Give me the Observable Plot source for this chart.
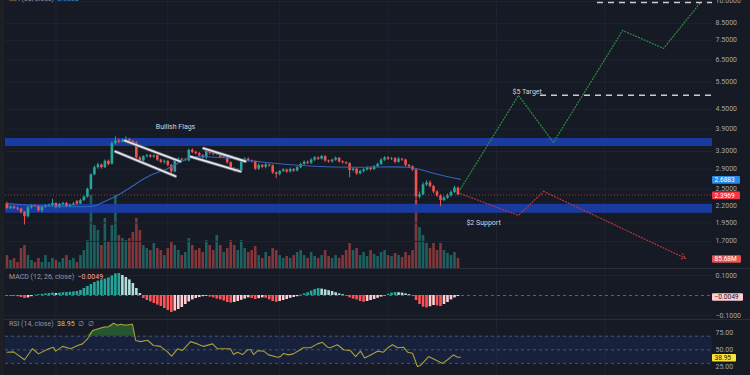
<!DOCTYPE html>
<html><head><meta charset="utf-8">
<script src="https://cdn.jsdelivr.net/npm/d3@7"></script>
<script src="https://cdn.jsdelivr.net/npm/@observablehq/plot@0.6"></script>
<style>
html,body{margin:0;padding:0;background:#161a25;}
#wrap{position:relative;width:750px;height:375px;overflow:hidden;font-family:Roboto,"Noto Sans",sans-serif;background:#161a25;}
.layer{position:absolute;left:0;}
.layer svg{display:block;}
.lbl{position:absolute;left:9px;font-size:7px;color:#9598a1;white-space:pre;line-height:8px;}
.sep{position:absolute;left:0;width:750px;height:1px;background:#2a2e39;}
</style></head><body><div id="wrap"></div>
<script>
// ---------- data ----------
const open = [2.25,2.17,2.19,2.17,2.16,2.11,2.04,2.18,2.21,2.20, 2.13,2.19,2.21,2.22,2.25,2.18,2.23,2.25,2.20,2.22,
  2.28,2.24,2.30,2.36,2.50,2.78,2.93,2.99,2.93,3.07, 3.01,3.50,3.57,3.54,3.58,3.60,3.56,3.52,3.15,3.08,
  3.18,3.20,3.17,3.20,3.10,3.05,3.07,2.98,2.84,3.10, 3.12,3.10,3.08,3.33,3.28,3.25,3.20,3.15,3.30,3.26,
  3.24,3.24,3.16,3.18,3.04,2.90,2.86,2.86,3.09,3.12, 3.08,3.06,2.90,2.98,2.94,2.99,2.97,2.82,2.79,2.85,
  2.88,2.84,2.89,2.86,2.93,3.00,3.05,3.03,3.10,3.15, 3.12,3.18,3.08,3.06,3.10,3.14,3.06,3.04,3.02,2.87,
  2.90,2.80,2.85,2.88,2.92,2.89,2.95,3.00,3.10,3.15, 3.12,3.13,3.05,3.12,3.10,2.98,2.95,2.88,2.36,2.40,
  2.58,2.62,2.55,2.45,2.38,2.30,2.34,2.38,2.44,2.52];
const close = [2.17,2.19,2.17,2.16,2.11,2.04,2.18,2.21,2.20,2.13, 2.19,2.21,2.22,2.25,2.18,2.23,2.25,2.20,2.22,2.24,
  2.24,2.30,2.36,2.50,2.78,2.93,2.99,2.93,3.07,3.00, 3.50,3.57,3.54,3.58,3.60,3.55,3.52,3.15,3.08,3.18,
  3.20,3.17,3.20,3.10,3.05,3.07,2.98,2.84,3.10,3.12, 3.10,3.11,3.33,3.28,3.25,3.20,3.15,3.30,3.26,3.24,
  3.26,3.16,3.18,3.04,2.90,2.86,2.88,3.09,3.12,3.08, 3.06,2.90,2.98,2.94,2.99,2.97,2.82,2.79,2.85,2.88,
  2.84,2.89,2.86,2.93,3.00,3.05,3.03,3.10,3.15,3.12, 3.18,3.08,3.06,3.10,3.14,3.06,3.04,3.02,2.87,2.90,
  2.80,2.85,2.88,2.92,2.89,2.95,3.00,3.10,3.15,3.12, 3.13,3.05,3.12,3.10,2.98,2.95,2.88,2.36,2.40,2.58,
  2.62,2.55,2.45,2.38,2.30,2.34,2.38,2.44,2.52,2.3969];
const high = [2.27,2.21,2.21,2.19,2.17,2.12,2.20,2.23,2.23,2.21, 2.20,2.23,2.24,2.32,2.26,2.25,2.27,2.27,2.24,2.27,
  2.30,2.32,2.38,2.52,2.80,2.97,3.03,3.01,3.10,3.10, 3.55,3.68,3.62,3.62,3.68,3.64,3.58,3.55,3.18,3.20,
  3.23,3.23,3.22,3.21,3.12,3.10,3.09,3.00,3.12,3.15, 3.14,3.14,3.36,3.37,3.31,3.28,3.23,3.33,3.33,3.29,
  3.29,3.26,3.21,3.20,3.06,2.93,2.91,3.12,3.15,3.15, 3.10,3.08,3.01,3.00,3.02,3.01,2.99,2.84,2.87,2.91,
  2.90,2.92,2.91,2.96,3.03,3.08,3.08,3.13,3.18,3.17, 3.21,3.20,3.10,3.12,3.17,3.16,3.08,3.06,3.04,2.93,
  2.92,2.88,2.91,2.95,2.95,2.98,3.03,3.13,3.18,3.18, 3.16,3.16,3.16,3.14,3.12,3.00,2.97,2.90,2.45,2.62,
  2.66,2.66,2.57,2.47,2.40,2.37,2.41,2.47,2.55,2.54];
const low = [2.15,2.15,2.15,2.13,2.08,1.92,2.02,2.16,2.18,2.11, 2.10,2.17,2.19,2.20,2.16,2.17,2.21,2.18,2.19,2.21,
  2.22,2.23,2.28,2.34,2.48,2.76,2.90,2.90,2.91,2.97, 2.99,3.46,3.50,3.52,3.55,3.52,3.48,3.12,3.05,3.05,
  3.15,3.14,3.14,3.07,3.02,3.01,2.95,2.80,2.82,3.07, 3.07,3.07,3.06,3.25,3.22,3.17,3.12,3.12,3.22,3.20,
  3.21,3.13,3.13,3.01,2.87,2.83,2.83,2.84,3.06,3.05, 3.03,2.87,2.87,2.91,2.91,2.94,2.79,2.70,2.76,2.83,
  2.81,2.82,2.83,2.84,2.91,2.98,3.00,3.00,3.07,3.09, 3.10,3.05,3.03,3.03,3.07,3.03,3.01,2.99,2.72,2.84,
  2.77,2.78,2.82,2.86,2.86,2.87,2.93,2.98,3.07,3.09, 3.09,3.02,3.03,3.07,2.95,2.92,2.85,2.22,2.33,2.38,
  2.55,2.52,2.42,2.35,2.20,2.28,2.32,2.36,2.42,2.38];
// volume, millions
const volume = [111,69,86,51,171,197,111,69,51,86, 51,111,51,86,69,51,86,111,69,86,
  51,111,154,240,626,369,326,197,429,223, 369,626,283,257,240,257,309,429,326,197,
  171,154,214,171,154,111,171,223,197,154, 111,137,257,197,154,171,137,240,197,154,
  283,197,137,171,240,197,154,240,171,137, 154,189,111,86,137,103,171,154,111,86,
  103,86,111,137,154,111,86,137,103,86, 111,154,103,86,111,86,111,154,214,154,
  171,111,137,103,154,120,103,137,154,111, 103,129,111,94,137,111,154,583,351,283,
  214,171,214,154,214,154,129,111,137,85.68];
// MACD histogram
const macdHist = [-0.003,-0.004,-0.004,-0.006,-0.010,-0.015,-0.012,-0.006,0.002,0.004,
  0.006,0.008,0.010,0.012,0.010,0.012,0.014,0.015,0.016,0.018,
  0.020,0.025,0.035,0.045,0.055,0.065,0.072,0.078,0.082,0.088,
  0.098,0.108,0.110,0.100,0.090,0.078,0.060,0.035,0.010,-0.015,
  -0.025,-0.032,-0.040,-0.048,-0.055,-0.065,-0.075,-0.085,-0.078,-0.070,
  -0.060,-0.045,-0.032,-0.022,-0.015,-0.010,-0.006,-0.004,-0.008,-0.012,
  -0.018,-0.022,-0.028,-0.035,-0.038,-0.035,-0.030,-0.024,-0.018,-0.012,
  -0.015,-0.020,-0.016,-0.012,-0.014,-0.022,-0.030,-0.034,-0.030,-0.025,
  -0.020,-0.014,-0.010,-0.006,0.002,0.008,0.014,0.022,0.030,0.035,
  0.032,0.028,0.024,0.020,0.014,0.008,0.004,-0.004,-0.012,-0.018,
  -0.022,-0.030,-0.034,-0.030,-0.025,-0.020,-0.014,-0.008,-0.002,0.006,
  0.012,0.015,0.014,0.012,0.008,0.004,-0.004,-0.025,-0.045,-0.058,
  -0.062,-0.056,-0.050,-0.052,-0.055,-0.045,-0.035,-0.022,-0.012,-0.0049];
// moving average, read at candle positions
const maIdx = [0,6.7,15.3,23.9,26.7,31.0,36.2,41.0,45.9,51.9,56.8,63.9,73.4,87.7,102.0,114.6,121.1,129.7];
const maVal = [2.25,2.22,2.20,2.20,2.25,2.37,2.57,2.77,2.91,3.14,3.18,3.14,3.05,2.96,2.94,2.94,2.83,2.6883];
// RSI, read at candle positions
const rsiIdx = [0,1.9,5.0,7.3,9.0,11.9,13.3,13.9,15.9,18.2,20.2,21.6,23.0,24.5,26.2,27.6,29.0,30.5,31.6,32.5,33.9,35.9,36.8,38.2,40.2,41.9,43.9,45.9,47.1,48.8,50.2,52.5,54.5,56.2,58.8,60.2,63.9,64.8,65.9,67.4,68.8,69.7,70.5,71.7,73.4,74.8,77.4,78.2,79.1,80.5,81.9,83.4,84.8,86.8,88.8,90.2,91.7,92.5,94.5,96.3,98.3,99.7,101.1,102.3,104.0,106.0,107.7,109.1,110.3,111.7,113.4,114.6,116.0,117.4,118.3,120.6,122.6,124.6,126.3,127.7,128.9,129.7];
const rsiVal = [46.5,47,35.3,51.5,44,51.5,53.8,48,55,51.5,56.3,58.7,66,78.4,80.9,83.3,84,89,86,87.5,86,87.5,63.7,62,64,56.3,55,47,40.6,51.5,49,62,58.7,55,58.7,51.5,51.5,43,46.5,43,50,50,43,48.5,48,42.5,39,40,44.7,42.5,44,48.5,53,53,58.7,61,53.8,53,57.5,50,48.5,40,48,38,42.5,48,46.5,53.8,57.5,53,53.8,46.5,45,25.4,27,40,35,30,36.5,42.5,39,38.95];
// drawings
const bands = [{lo:3.427, hi:3.636},{lo:2.092, hi:2.235}];
const flagLines = [
  {id:"f1u", pts:[[33.6,3.58],[49.6,3.07]]},
  {id:"f1l", pts:[[31.0,3.30],[48.2,2.75]]},
  {id:"f2u", pts:[[56.2,3.38],[68.2,3.07]]},
  {id:"f2l", pts:[[52.5,3.18],[66.8,2.85]]}];
const bullPath = [[129.7,2.50],[146.3,5.0],[156.3,3.53],[176.1,8.07],[187.8,7.07],[198.4,9.93]];
const bearPath = [[129.7,2.42],[146.3,2.06],[153.5,2.46],[194.1,1.50]];
const targets = [{y:5.0, x1:152.6, x2:201.8},{y:9.93, x1:168.9, x2:201.8}];
const noteMid = [{x:48.2,y:3.97,text:"Bullish Flags"}];
const noteStart = [{x:144.6,y:5.14,text:"$5 Target"},{x:131.4,y:1.957,text:"$2 Support"}];
const priceTicks = [10,8.5,7.5,6.5,5.5,4.5,3.9,3.3,2.9,2.5,2.2,1.95,1.7];
const macdTicks = [0.1,-0.1];
const rsiTicks = [75,50,25];
const gridX = [14,46,78,109,140,171];
const lastPrice = 2.3969, lastMA = 2.6883, lastVol = 85.68, lastMacd = -0.0049, lastRsi = 38.95;

// ---------- chart ----------
const UP="#26a69a", DN="#ef5350", GRID="#1f2330";
const XD=[-0.43,201.8];
const idx = d3.range(open.length);
const col = i => close[i] >= open[i] ? UP : DN;
const base = {width:750, marginLeft:5, marginRight:38, marginTop:0, marginBottom:0,
  x:{domain:XD, axis:null}, color:{type:"identity"},
  style:{background:"transparent", color:"#a3a6af", fontSize:"7px", fontFamily:"Roboto, sans-serif"}};
const wrap = document.getElementById("wrap");
function place(el, top){ const d=document.createElement("div"); d.className="layer"; d.style.top=top+"px"; d.appendChild(el); wrap.appendChild(d); return el; }
function badgeAt(svg, y, label, bg, fg, w){
  const c = y + 1;
  const g = d3.select(svg).append("g").attr("text-anchor","start");
  g.append("rect").attr("x",712).attr("y",c-3.8).attr("width",w).attr("height",7.6).attr("rx",1).attr("fill",bg);
  g.append("text").attr("x",714.5).attr("y",c).attr("dy","0.34em").attr("font-size",6.6).attr("fill",fg).attr("text-anchor","start").text(label);
}
function badge(plot, value, label, bg, fg, w){ badgeAt(plot, plot.scale("y").apply(value), label, bg, fg, w); }

// volume layer (behind)
const vol = Plot.plot({...base, height:268, y:{domain:[0,2297], axis:null},
  marks:[
    Plot.ruleX(gridX,{stroke:GRID}),
    Plot.ruleX(idx,{x:d=>d, y1:0, y2:d=>volume[d], stroke:col, strokeOpacity:0.5, strokeWidth:2.6})
  ]});
place(vol,0);

// price layer
const flagData = flagLines.flatMap(f=>f.pts.map(p=>({id:f.id,x:p[0],y:p[1]})));
const main = Plot.plot({...base, height:268, y:{type:"log", domain:[1.392,10.07], axis:null},
  marks:[
    Plot.ruleY(priceTicks,{stroke:GRID}),
    Plot.rect(bands,{y1:"lo", y2:"hi", fill:"#1a3da8", fillOpacity:0.92}),
    Plot.ruleY([lastPrice],{stroke:DN, strokeOpacity:0.55, strokeDasharray:"1,2"}),
    Plot.ruleX(idx,{x:d=>d, y1:d=>low[d], y2:d=>high[d], stroke:col, strokeWidth:1}),
    Plot.ruleX(idx,{x:d=>d, y1:d=>open[d], y2:d=>close[d], stroke:col, strokeWidth:2.6}),
    Plot.line(maIdx.map((d,k)=>[d,maVal[k]]),{stroke:"#3266b8", strokeWidth:1.1, curve:"natural"}),
    Plot.line(flagData,{x:"x",y:"y",z:"id",stroke:"#6b6f7a",strokeWidth:3.2}),
    Plot.line(flagData,{x:"x",y:"y",z:"id",stroke:"#e6e8ee",strokeWidth:1.6}),
    Plot.line(bullPath,{stroke:"#2f8f45", strokeWidth:1.2, strokeDasharray:"1,2"}),
    Plot.line(bearPath.slice(0,3),{stroke:"#b23a3f", strokeWidth:1.2, strokeDasharray:"1,2"}),
    Plot.arrow([[bearPath[2],bearPath[3]]],{x1:d=>d[0][0],y1:d=>d[0][1],x2:d=>d[1][0],y2:d=>d[1][1],stroke:"#b23a3f",strokeWidth:1.2,strokeDasharray:"1,2",headLength:7,bend:0}),
    Plot.ruleY(targets,{y:"y",x1:"x1",x2:"x2",stroke:"#c9cbd1",strokeWidth:1.5,strokeDasharray:"6,5"}),
    Plot.text(noteMid,{x:"x",y:"y",text:"text",textAnchor:"middle",fill:"#d1d4dc",fontSize:7}),
    Plot.text(noteStart,{x:"x",y:"y",text:"text",textAnchor:"start",fill:"#d1d4dc",fontSize:7}),
    Plot.axisY(priceTicks,{anchor:"right", tickSize:0, tickPadding:3, tickFormat:d3.format(".4f"), fill:"#a3a6af", dy:-0.5})
  ]});
place(main,0);
badge(main, lastMA, "2.6883", "#2a8ae8", "#ffffff", 28);
badge(main, lastPrice, "2.3969", "#f23645", "#ffffff", 28);
badgeAt(main, vol.scale("y").apply(lastVol), lastVol.toFixed(2)+"M", "#e5534f", "#ffffff", 29);

// MACD pane
const macd = Plot.plot({...base, height:52, y:{domain:[-0.125,0.135], axis:null},
  marks:[
    Plot.ruleX(gridX,{stroke:GRID}),
    Plot.ruleY(macdTicks,{stroke:GRID}),
    Plot.ruleY([0],{stroke:"#5d606b", strokeDasharray:"3,3"}),
    Plot.ruleX(idx,{x:d=>d, y1:0, y2:d=>macdHist[d], strokeWidth:2.6,
      stroke:d=>{const v=macdHist[d], p=d>0?macdHist[d-1]:v; return v>=0 ? (v>=p?"#26a69a":"#b2dfdb") : (v<=p?"#ff5252":"#ffcdd2");}}),
    Plot.axisY(macdTicks,{anchor:"right", tickSize:0, tickPadding:3, tickFormat:d3.format(".4f"), fill:"#a3a6af"})
  ]});
place(macd,268);
badge(macd, lastMacd, "\u22120.0049", "#ffcdd2", "#131722", 31);

// RSI pane
const rsiPts = rsiIdx.map((d,k)=>[d,rsiVal[k]]);
const rsi = Plot.plot({...base, height:55, y:{domain:[12.2,93.1], axis:null},
  marks:[
    Plot.ruleX(gridX,{stroke:GRID}),
    Plot.rect([{a:30,b:70}],{y1:"a", y2:"b", fill:"#2962ff", fillOpacity:0.1}),
    Plot.ruleY([70,50,30],{stroke:"#5d606b", strokeDasharray:"3,3", strokeOpacity:0.8}),
    Plot.areaY(rsiPts,{x:d=>d[0], y1:70, y2:d=>Math.max(70,d[1]), fill:"#2c6b34", fillOpacity:0.75}),
    Plot.line(rsiPts,{stroke:"#aaa03a", strokeWidth:1.1}),
    Plot.axisY(rsiTicks,{anchor:"right", tickSize:0, tickPadding:3, tickFormat:d3.format(".2f"), fill:"#a3a6af"})
  ]});
place(rsi,320);
badge(rsi, lastRsi, "38.95", "#f7e43c", "#131722", 24);

// separators, left strip and pane legends
[268,319].forEach(t=>{const s=document.createElement("div");s.className="sep";s.style.top=t+"px";wrap.appendChild(s);});
const strip=document.createElement("div");strip.style.cssText="position:absolute;left:0;top:0;width:4px;height:375px;background:#1d1f24;";wrap.appendChild(strip);
function legend(top, parts){const d=document.createElement("div");d.className="lbl";d.style.top=top+"px";
  parts.forEach(([t,c])=>{const s=document.createElement("span");s.textContent=t;s.style.color=c;d.appendChild(s);});wrap.appendChild(d);}
legend(-5,[["MA (50, close)  ","#9598a1"],[lastMA.toFixed(4),"#2a8ae8"]]);
legend(273,[["MACD (12, 26, close)  ","#9598a1"],["\u22120.0049","#f3a7a9"]]);
legend(320,[["RSI (14, close)  ","#9598a1"],["38.95","#d8c83a"],["  \u2205  \u2205","#9598a1"]]);
</script></body></html>
